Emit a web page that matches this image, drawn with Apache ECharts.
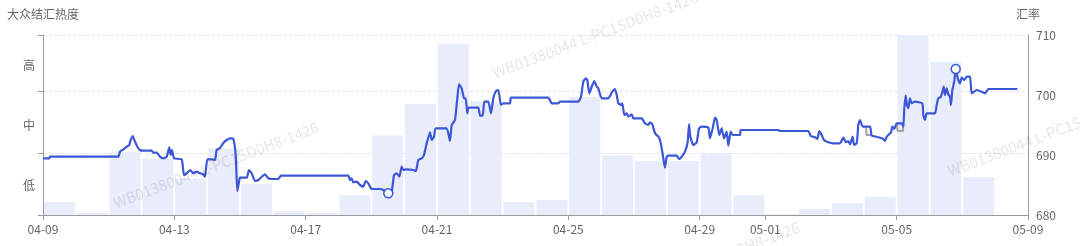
<!DOCTYPE html>
<html><head><meta charset="utf-8">
<script src="https://cdn.jsdelivr.net/npm/echarts@6/dist/echarts.min.js"></script>
<style>html,body{margin:0;padding:0;background:#fff}#c{width:1080px;height:246px}</style>
</head><body><div id="c"></div>
<script>
const YEAR = 2025;
const heatLevels = ['低', '中', '高'];
const xTickDates = ['04-09 00:00','04-13 00:00','04-17 00:00','04-21 00:00','04-25 00:00','04-29 00:00','05-01 00:00','05-05 00:00','05-09 00:00'];
const rateTicks = [680, 690, 700, 710];

const barDays = ['04-09','04-10','04-11','04-12','04-13','04-14','04-15','04-16','04-17','04-18','04-19','04-20','04-21','04-22','04-23','04-24','04-25','04-26','04-27','04-28','04-29','04-30','05-01','05-02','05-03','05-04','05-05','05-06','05-07','05-08'];
const barValues = [21, 3, 102, 91, 59, 107, 50, 6, 3, 32, 128, 179, 276, 183, 21, 24, 190, 96, 87, 87, 99, 32, 1, 10, 19, 29, 290, 247, 61, null];

const rateTimes = [
 '04-09 00:00','04-09 04:36','04-09 05:07',
 '04-11 07:02','04-11 08:17','04-11 10:42','04-11 13:11','04-11 15:04','04-11 16:06','04-11 17:34','04-11 19:15','04-11 20:56','04-11 22:54',
 '04-12 01:19','04-12 07:27','04-12 08:37','04-12 11:07','04-12 13:31','04-12 15:56','04-12 18:25','04-12 20:19','04-12 21:20','04-12 22:18','04-12 23:46',
 '04-13 05:23','04-13 07:03','04-13 09:02','04-13 11:27','04-13 13:52','04-13 16:21','04-13 18:46','04-13 20:44','04-13 22:25',
 '04-14 00:06','04-14 03:32','04-14 05:44','04-14 06:58','04-14 09:23','04-14 11:48','04-14 14:17','04-14 16:42','04-14 19:06','04-14 20:51','04-14 22:02','04-14 23:17',
 '04-15 00:00','04-15 04:54','04-15 06:35','04-15 08:33','04-15 10:58','04-15 13:22','04-15 15:52','04-15 18:16','04-15 20:41',
 '04-16 00:20','04-16 04:00','04-16 05:58',
 '04-18 07:10','04-18 08:24','04-18 09:39','04-18 10:49','04-18 13:18','04-18 15:43','04-18 18:08','04-18 19:54','04-18 21:48',
 '04-19 00:16','04-19 06:20','04-19 08:45','04-19 12:24','04-19 14:54','04-19 16:35','04-19 18:33','04-19 20:27','04-19 22:12','04-19 23:23',
 '04-20 01:51','04-20 06:40','04-20 08:38','04-20 10:20','04-20 12:49','04-20 14:30','04-20 16:28','04-20 18:53','04-20 20:07','04-20 21:48','04-20 23:02',
 '04-21 07:05','04-21 09:30','04-21 10:44','04-21 13:09','04-21 14:50','04-21 16:05','04-21 18:03','04-21 19:44','04-21 20:58','04-21 22:09','04-21 23:10',
 '04-22 06:11','04-22 07:26','04-22 09:24','04-22 10:35','04-22 13:30','04-22 15:29','04-22 17:10','04-22 19:08','04-22 20:48','04-22 22:47',
 '04-23 00:27','04-23 05:22','04-23 06:06',
 '04-24 09:22','04-24 11:51','04-24 16:41','04-24 17:54',
 '04-25 07:17','04-25 09:16','04-25 10:56','04-25 12:42','04-25 13:52','04-25 15:20','04-25 17:05','04-25 18:59','04-25 20:44','04-25 21:55',
 '04-26 00:23','04-26 05:13','04-26 08:08','04-26 10:06','04-26 11:21','04-26 12:31','04-26 14:30','04-26 15:27','04-26 16:55','04-26 18:40','04-26 19:50','04-26 22:19','04-26 23:29',
 '04-27 05:38','04-27 08:02','04-27 10:27','04-27 11:42','04-27 13:23','04-27 15:22','04-27 17:46','04-27 19:00','04-27 20:15','04-27 21:25','04-27 22:40','04-27 23:54',
 '04-28 01:05','04-28 07:13','04-28 08:54','04-28 10:52','04-28 13:17','04-28 15:16','04-28 16:13','04-28 17:10','04-28 19:21','04-28 21:50','04-28 23:31',
 '04-29 01:29','04-29 06:19','04-29 07:34','04-29 09:32','04-29 11:12','04-29 12:27','04-29 14:21','04-29 16:06','04-29 17:47','04-29 19:45','04-29 20:56','04-29 22:41',
 '04-30 00:09','04-30 05:30','04-30 06:00',
 '05-01 09:29','05-01 10:44',
 '05-02 07:25','05-02 09:10','05-02 12:19','05-02 14:00','05-02 15:27','05-02 17:13','05-02 18:53','05-02 22:02',
 '05-03 01:41','05-03 06:35','05-03 09:00','05-03 10:58','05-03 12:39','05-03 13:53','05-03 15:52','05-03 16:49','05-03 18:48','05-03 19:58','05-03 21:13','05-03 23:11',
 '05-04 04:31','05-04 05:46','05-04 09:25','05-04 11:50','05-04 14:14','05-04 15:29','05-04 16:43','05-04 18:24','05-04 19:52','05-04 20:49','05-04 22:16',
 '05-05 00:01','05-05 03:41','05-05 04:51','05-05 05:35','05-05 06:36','05-05 07:33','05-05 08:30','05-05 09:44','05-05 10:59','05-05 13:24','05-05 18:44','05-05 19:28','05-05 20:42','05-05 21:57',
 '05-06 04:01','05-06 05:15','05-06 06:26','05-06 08:24','05-06 09:21','05-06 10:22','05-06 11:19','05-06 12:34','05-06 13:45','05-06 15:00','05-06 15:43','05-06 16:41','05-06 18:09','05-06 19:10','05-06 20:38','05-06 22:19','05-06 23:34',
 '05-07 01:28','05-07 03:13','05-07 05:37','05-07 06:52','05-07 10:31','05-07 14:10','05-07 16:35','05-07 18:59',
 '05-08 16:12'
];
const rateValues = [
 689.45,689.45,689.72,
 689.72,690.55,690.95,691.38,691.67,692.5,693.17,692.22,691.38,690.83,
 690.72,690.72,690.38,690.38,689.72,689.45,689.72,691.28,690.0,690.83,689.45,
 689.28,686.67,686.95,687.5,686.95,687.22,686.95,686.83,686.38,
 689.28,689.28,689.17,690.83,691.17,692.0,692.5,692.78,692.67,690.0,684.0,685.55,
 686.22,686.22,687.5,686.95,685.67,685.83,686.38,686.78,686.12,
 686.0,686.0,686.55,
 686.55,685.83,686.12,685.45,685.55,685.0,684.72,685.67,685.28,
 684.33,684.33,684.17,683.62,683.88,686.67,686.95,686.38,688.05,687.5,
 687.62,687.5,687.33,689.17,689.45,690.0,691.95,693.78,692.5,693.05,694.45,
 694.45,692.33,695.0,695.83,699.45,701.78,701.12,699.45,699.45,696.95,697.88,
 697.88,696.55,696.55,698.88,698.88,696.95,699.45,700.67,700.83,698.33,
 698.62,698.62,699.55,
 699.55,698.62,698.62,698.88,
 698.88,699.72,702.22,702.78,702.5,700.28,701.38,702.33,701.38,701.12,
 699.45,699.45,700.55,701.0,700.0,698.62,698.33,698.62,696.67,696.95,696.38,696.78,696.12,
 696.12,695.28,695.0,695.45,695.12,693.62,693.05,692.5,691.12,689.45,687.88,689.72,
 689.88,689.88,689.33,689.72,690.55,692.22,695.12,693.05,691.67,692.12,694.45,
 694.72,694.55,692.78,694.45,696.22,695.83,693.33,694.45,692.78,693.88,691.55,693.88,
 693.33,693.33,694.17,
 694.17,694.0,
 694.0,693.17,692.95,692.67,694.0,693.33,692.5,692.12,
 691.95,691.95,692.88,692.12,692.33,691.78,693.05,691.67,691.95,695.0,695.83,694.72,
 694.72,693.22,693.05,692.88,692.67,692.33,693.05,693.45,693.78,694.72,694.33,
 695.28,695.28,694.72,697.78,699.88,698.33,697.78,699.45,698.62,698.88,698.62,696.67,695.83,696.95,
 696.95,698.33,699.45,699.72,700.45,701.38,700.0,701.12,700.12,699.72,698.33,700.83,702.33,704.33,702.78,701.95,702.88,
 702.5,703.05,703.05,700.28,700.83,700.55,700.28,701.0,
 701.0
];
// grey reference series (only where it differs visibly from the blue one)
const greyTimes = ['05-04 01:36','05-04 01:58','05-04 05:15', null, '05-05 00:14','05-05 00:37','05-05 04:38','05-05 05:00'];
const greyValues = [694.67, 693.33, 693.33, null, 695.28, 694.0, 694.0, 695.28];

function ts(s) {
  const [md, hm] = s.split(' ');
  const [m, d] = md.split('-').map(Number);
  const [h, mi] = (hm || '00:00').split(':').map(Number);
  return new Date(YEAR, m - 1, d, h, mi).getTime();
}
function pad(n) { return (n < 10 ? '0' : '') + n; }

const n = Math.min(rateTimes.length, rateValues.length);
const rateData = [];
for (let i = 0; i < n; i++) rateData.push([ts(rateTimes[i]), rateValues[i]]);
const greyData = greyTimes.map((t, i) => t === null ? '-' : [ts(t), greyValues[i]]);
const tickVals = xTickDates.map(ts);

const blue = '#3b56d6';
const axisGrey = '#9a9a9a';
const txt = '#666';
const font = "'Noto Sans CJK SC', 'Noto Sans', sans-serif";
const wm = 'WB01380044 L-PC1SD0H8-1426';
const wmText = (x, y) => ({ type: 'text', x: x, y: y, rotation: 0.36, silent: true, z: 100,
  style: { text: wm, fill: 'rgba(0,0,0,0.10)', font: '15px ' + font, align: 'center', verticalAlign: 'middle' } });

const chart = echarts.init(document.getElementById('c'), null, { renderer: 'canvas' });
chart.setOption({
  animation: false,
  textStyle: { fontFamily: font },
  grid: { left: 43, right: 52, top: 35, bottom: 31, containLabel: false },
  xAxis: [{
    type: 'time', min: tickVals[0], max: tickVals[tickVals.length - 1],
    axisLine: { lineStyle: { color: axisGrey } },
    axisTick: { show: true, length: 5, lineStyle: { color: axisGrey } },
    axisLabel: { color: txt, fontSize: 12, showMinLabel: true, showMaxLabel: true,
      formatter: v => { const d = new Date(v); return pad(d.getMonth() + 1) + '-' + pad(d.getDate()); } },
    splitLine: { show: false }
  }, {
    type: 'category', data: barDays, boundaryGap: true, position: 'bottom', show: false
  }],
  yAxis: [
    { type: 'value', position: 'left', min: 0, max: 290, interval: 100,
      name: '大众结汇热度', nameTextStyle: { color: txt, fontSize: 12 },
      axisLine: { show: true, lineStyle: { color: axisGrey } },
      axisTick: { show: true, length: 5, lineStyle: { color: axisGrey } },
      axisLabel: { show: false },
      splitLine: { show: true, lineStyle: { color: '#e2e6f0', type: 'dashed' } } },
    { type: 'value', position: 'right', min: rateTicks[0], max: rateTicks[rateTicks.length - 1], interval: 10,
      name: '汇率', nameTextStyle: { color: txt, fontSize: 12 },
      axisLine: { show: true, lineStyle: { color: axisGrey } },
      axisTick: { show: false },
      axisLabel: { color: txt, fontSize: 12 },
      splitLine: { show: false } },
    { type: 'category', position: 'left', data: heatLevels, boundaryGap: true,
      axisLine: { show: false }, axisTick: { show: false }, splitLine: { show: false },
      axisLabel: { color: txt, fontSize: 12 } }
  ],
  series: [
    { type: 'bar', xAxisIndex: 1, yAxisIndex: 0, data: barValues, barWidth: 31,
      itemStyle: { color: '#e9edfb' }, silent: true, z: 1 },
    { type: 'line', xAxisIndex: 0, yAxisIndex: 1, data: greyData, showSymbol: false, connectNulls: false,
      lineStyle: { color: '#a3a3a3', width: 2 }, z: 2 },
    { type: 'line', xAxisIndex: 0, yAxisIndex: 1, data: rateData, showSymbol: false, smooth: 0.15,
      lineStyle: { color: blue, width: 2.2 }, itemStyle: { color: blue }, z: 3,
      markPoint: { symbol: 'circle', symbolSize: 9, label: { show: false },
        itemStyle: { color: '#fff', borderColor: blue, borderWidth: 1.5 },
        data: [{ type: 'min' }, { type: 'max' }] } }
  ],
  graphic: [ wmText(216, 165), wmText(595, 35), wmText(1050, 133), wmText(697, 265) ]
});
</script></body></html>
